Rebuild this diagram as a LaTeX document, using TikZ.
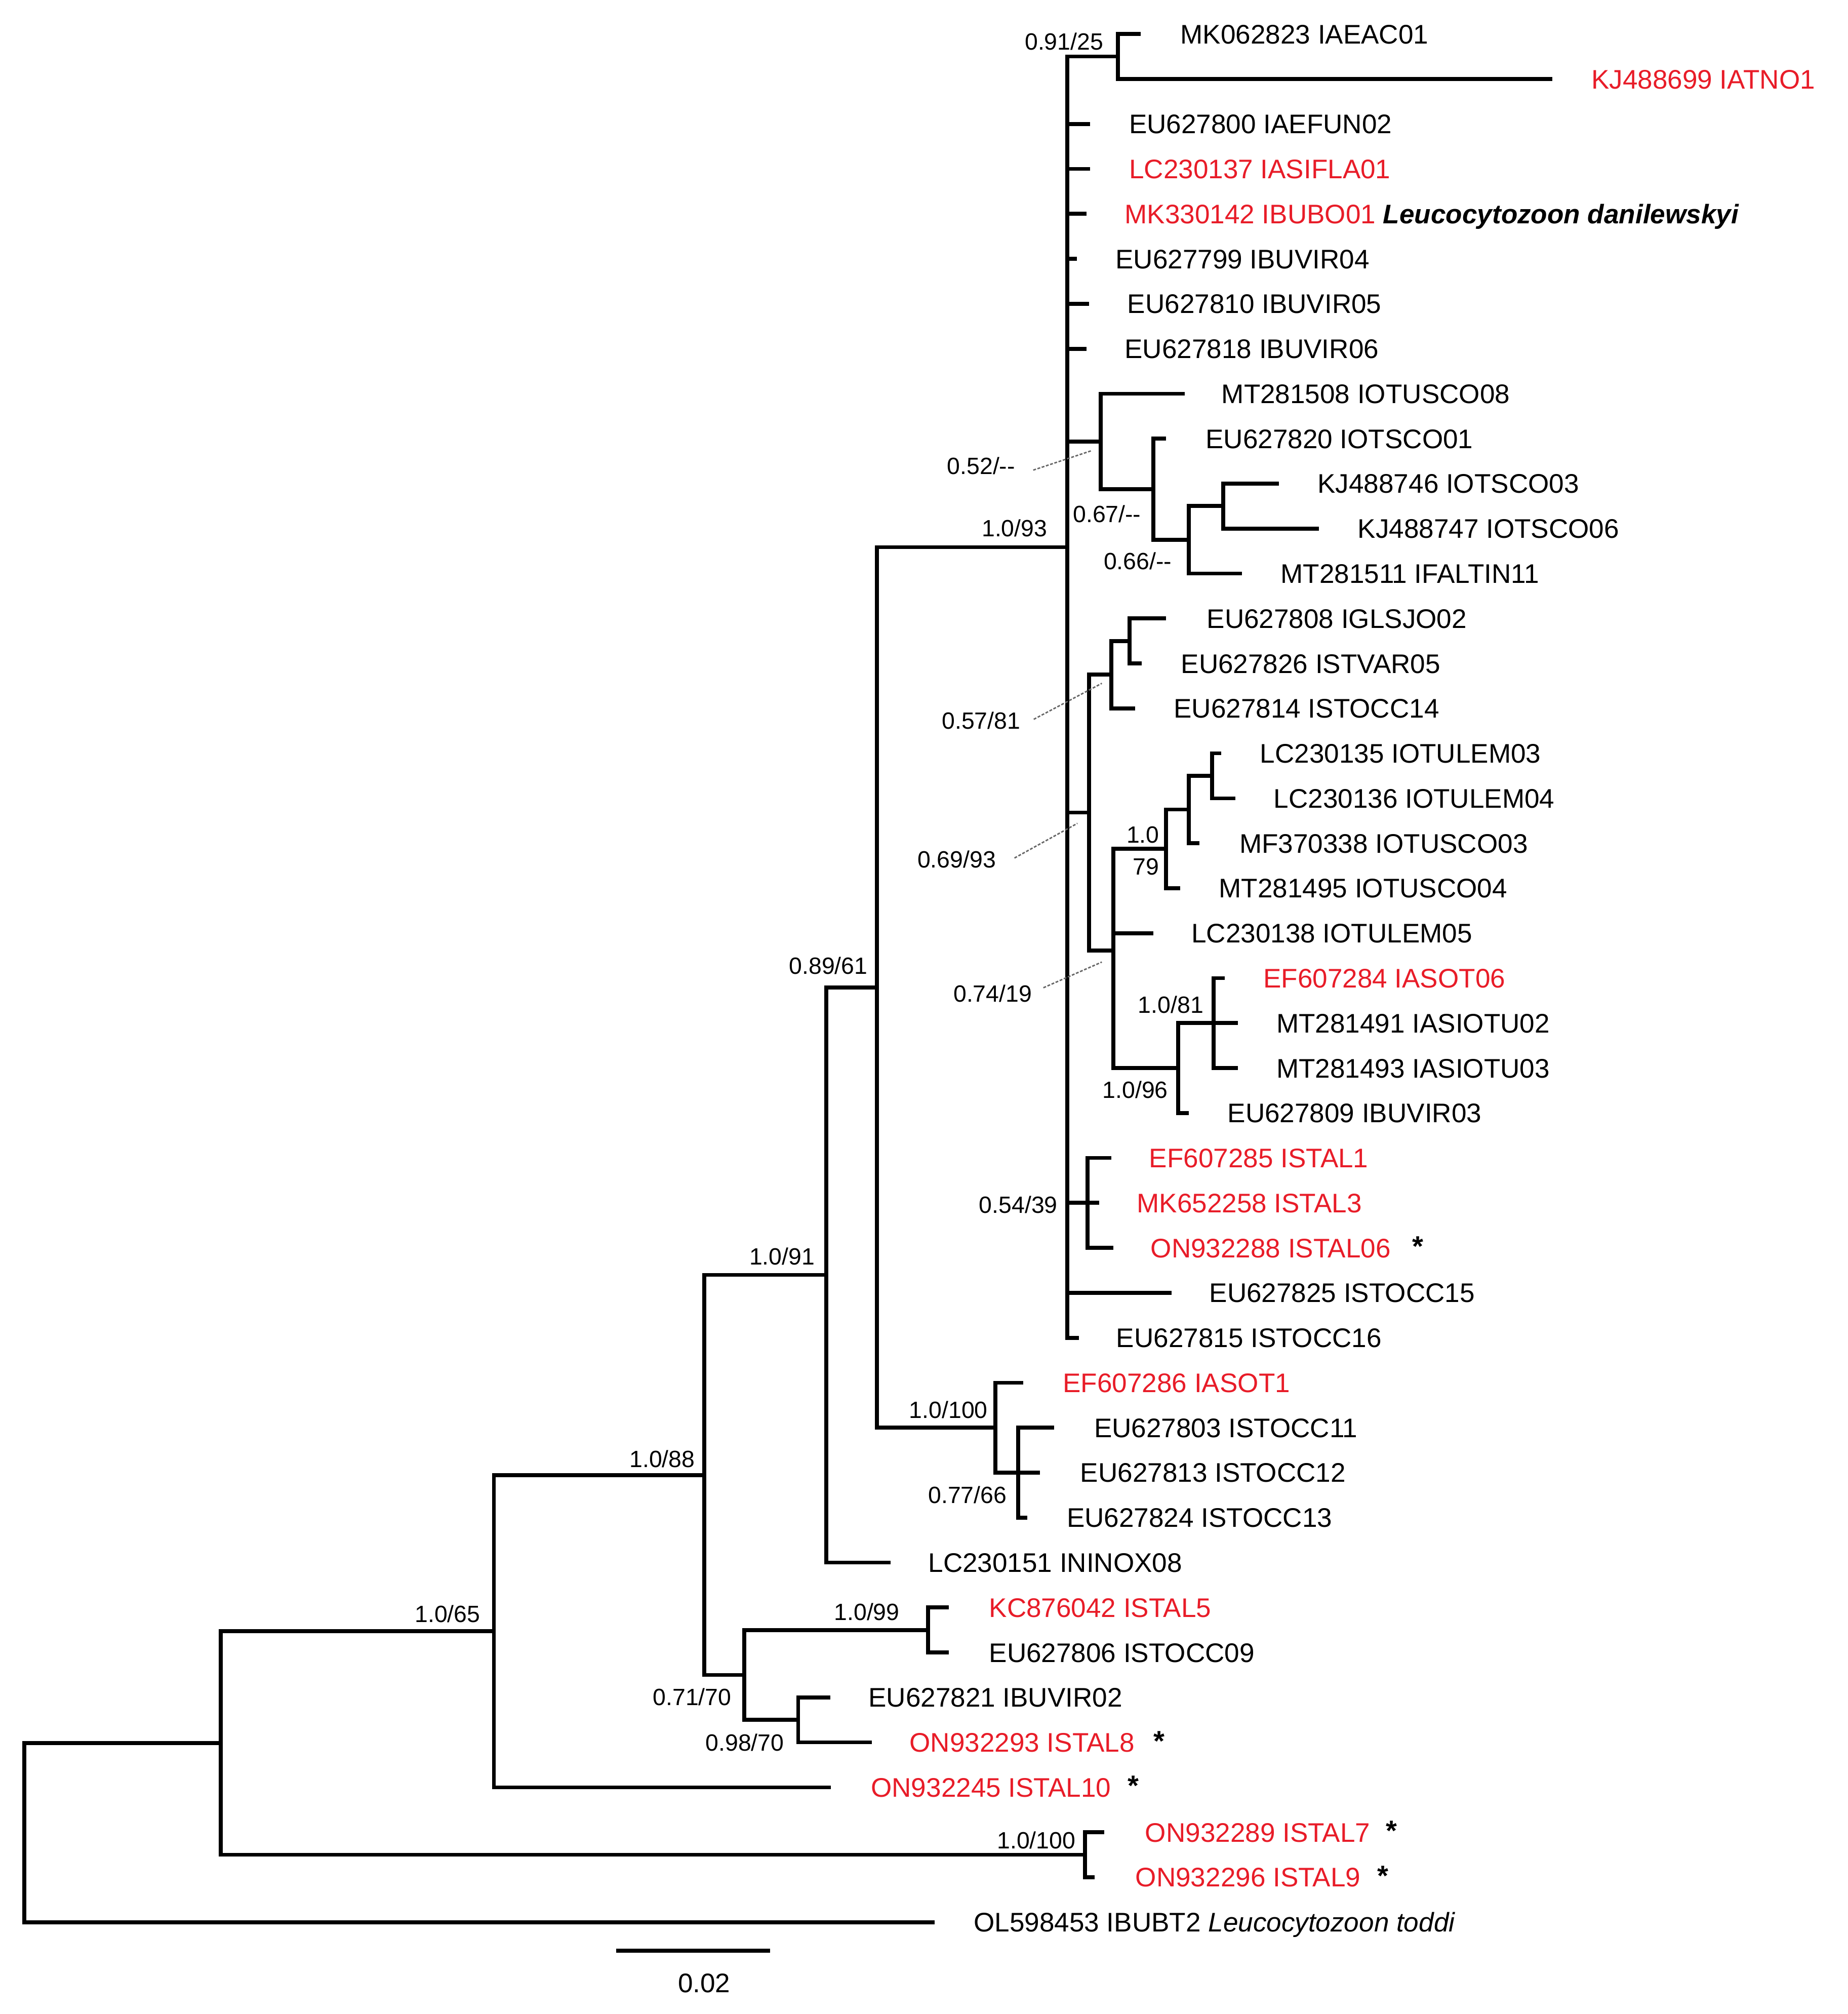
\documentclass[tikz,border=0pt]{standalone}
\usepackage{fontspec}
\setmainfont{Liberation Sans}
\definecolor{tred}{RGB}{232,28,40}
\tikzset{
  br/.style={line width=2.2pt, line join=miter, black},
  tiplab/.style={anchor=base west, inner sep=0pt, font=\fontsize{15.1pt}{18pt}\selectfont},
  redlab/.style={tiplab, text=tred},
  suplab/.style={anchor=center, inner sep=0pt, font=\fontsize{13.2pt}{15pt}\selectfont},
  starlab/.style={anchor=base, inner sep=0pt, font=\fontsize{16pt}{18pt}\selectfont\bfseries},
  lead/.style={line width=0.8pt, black!60, dash pattern=on 1.6pt off 0.9pt}
}
\begin{document}
\begin{tikzpicture}[x=0.025365cm, y=-0.025365cm]
\useasboundingbox (0,0) rectangle (1439,1568);
% internal nodes
\coordinate (root) at (19,1426.75);
\coordinate (nA) at (172,1357);
\coordinate (n65) at (384.6,1270);
\coordinate (n88) at (548.5,1148.5);
\coordinate (n91) at (643.5,992.6);
\coordinate (n8961) at (683,768.75);
\coordinate (n93) at (831,426);
\coordinate (n9125) at (870.5,44);
\coordinate (n52) at (857,343.7);
\coordinate (n67) at (898,380.9);
\coordinate (n66) at (925.7,420.25);
\coordinate (nKJ) at (952.4,394);
\coordinate (n6993) at (848,632.6);
\coordinate (n5781) at (865.5,525.25);
\coordinate (nGL) at (879.6,499);
\coordinate (n7419) at (867,740);
\coordinate (n179) at (908,660.9);
\coordinate (nLCa) at (925.6,630.25);
\coordinate (nLCb) at (943.8,604);
\coordinate (n196) at (917.5,831.5);
\coordinate (n181) at (945,796.5);
\coordinate (n5439) at (847,936.5);
\coordinate (n100a) at (775,1111.5);
\coordinate (n7766) at (793,1146.5);
\coordinate (n7170) at (579.5,1304);
\coordinate (n199) at (722.6,1269);
\coordinate (n9870) at (621.6,1339);
\coordinate (n100b) at (845,1444);
% tips
\coordinate (t01) at (888.4,26.5);
\coordinate (t02) at (1209,61.5);
\coordinate (t03) at (849,96.5);
\coordinate (t04) at (849,131.5);
\coordinate (t05) at (846,166.5);
\coordinate (t06) at (838.5,201.5);
\coordinate (t07) at (848,236.5);
\coordinate (t08) at (846,271.5);
\coordinate (t09) at (922.5,306.5);
\coordinate (t10) at (908,341.5);
\coordinate (t11) at (996,376.5);
\coordinate (t12) at (1027,411.5);
\coordinate (t13) at (967,446.5);
\coordinate (t14) at (908,481.5);
\coordinate (t15) at (889,516.5);
\coordinate (t16) at (884,551.5);
\coordinate (t17) at (951,586.5);
\coordinate (t18) at (962,621.5);
\coordinate (t19) at (934,656.5);
\coordinate (t20) at (919,691.5);
\coordinate (t21) at (898,726.5);
\coordinate (t22) at (953.7,761.5);
\coordinate (t23) at (964,796.5);
\coordinate (t24) at (964,831.5);
\coordinate (t25) at (925.6,866.5);
\coordinate (t26) at (865.5,901.5);
\coordinate (t27) at (856,936.5);
\coordinate (t28) at (867,971.5);
\coordinate (t29) at (912.5,1006.5);
\coordinate (t30) at (840,1041.5);
\coordinate (t31) at (797,1076.5);
\coordinate (t32) at (821,1111.5);
\coordinate (t33) at (810,1146.5);
\coordinate (t34) at (800,1181.5);
\coordinate (t35) at (693.5,1216.5);
\coordinate (t36) at (739,1251.5);
\coordinate (t37) at (739,1286.5);
\coordinate (t38) at (646.5,1321.5);
\coordinate (t39) at (679,1356.5);
\coordinate (t40) at (647,1391.5);
\coordinate (t41) at (860,1426.5);
\coordinate (t42) at (852.5,1461.5);
\coordinate (t43) at (728,1496.5);
% branches
\foreach \p/\c in {root/nA, root/t43, nA/n65, nA/n100b, n65/n88, n65/t40,
  n88/n91, n88/n7170, n91/n8961, n91/t35, n8961/n93, n8961/n100a,
  n93/n9125, n93/t03, n93/t04, n93/t05, n93/t06, n93/t07, n93/t08,
  n93/n52, n93/n6993, n93/n5439, n93/t29, n93/t30,
  n9125/t01, n9125/t02, n52/t09, n52/n67, n67/t10, n67/n66,
  n66/nKJ, n66/t13, nKJ/t11, nKJ/t12,
  n6993/n5781, n6993/n7419, n5781/nGL, n5781/t16, nGL/t14, nGL/t15,
  n7419/n179, n7419/t21, n7419/n196, n179/nLCa, n179/t20,
  nLCa/nLCb, nLCa/t19, nLCb/t17, nLCb/t18,
  n196/n181, n196/t25, n181/t22, n181/t23, n181/t24,
  n5439/t26, n5439/t27, n5439/t28,
  n100a/t31, n100a/n7766, n7766/t32, n7766/t33, n7766/t34,
  n7170/n199, n7170/n9870, n199/t36, n199/t37, n9870/t38, n9870/t39,
  n100b/t41, n100b/t42}
  \draw[br] (\p) |- (\c);
% tip labels
\node[tiplab] (l01) at (919,34) {MK062823 IAEAC01};
\node[redlab] (l02) at (1239,69) {KJ488699 IATNO1};
\node[tiplab] (l03) at (879,104) {EU627800 IAEFUN02};
\node[redlab] (l04) at (879,139) {LC230137 IASIFLA01};
\node[tiplab] (l05) at (875.6,174) {\textcolor{tred}{MK330142 IBUBO01} \textbf{\textit{Leucocytozoon danilewskyi}}};
\node[tiplab] (l06) at (868.4,209) {EU627799 IBUVIR04};
\node[tiplab] (l07) at (877.7,244) {EU627810 IBUVIR05};
\node[tiplab] (l08) at (875.6,279) {EU627818 IBUVIR06};
\node[tiplab] (l09) at (951,314) {MT281508 IOTUSCO08};
\node[tiplab] (l10) at (938.6,349) {EU627820 IOTSCO01};
\node[tiplab] (l11) at (1025.8,384) {KJ488746 IOTSCO03};
\node[tiplab] (l12) at (1057,419) {KJ488747 IOTSCO06};
\node[tiplab] (l13) at (997,454) {MT281511 IFALTIN11};
\node[tiplab] (l14) at (939.5,489) {EU627808 IGLSJO02};
\node[tiplab] (l15) at (919.4,524) {EU627826 ISTVAR05};
\node[tiplab] (l16) at (913.8,559) {EU627814 ISTOCC14};
\node[tiplab] (l17) at (981,594) {LC230135 IOTULEM03};
\node[tiplab] (l18) at (991.6,629) {LC230136 IOTULEM04};
\node[tiplab] (l19) at (965,664) {MF370338 IOTUSCO03};
\node[tiplab] (l20) at (949,699) {MT281495 IOTUSCO04};
\node[tiplab] (l21) at (927.5,734) {LC230138 IOTULEM05};
\node[redlab] (l22) at (983.5,769) {EF607284 IASOT06};
\node[tiplab] (l23) at (993.7,804) {MT281491 IASIOTU02};
\node[tiplab] (l24) at (993.7,839) {MT281493 IASIOTU03};
\node[tiplab] (l25) at (955.7,874) {EU627809 IBUVIR03};
\node[redlab] (l26) at (894.6,909) {EF607285 ISTAL1};
\node[redlab] (l27) at (885,944) {MK652258 ISTAL3};
\node[redlab] (l28) at (895.8,979) {ON932288 ISTAL06};
\node[tiplab] (l29) at (941.5,1014) {EU627825 ISTOCC15};
\node[tiplab] (l30) at (869,1049) {EU627815 ISTOCC16};
\node[redlab] (l31) at (827.5,1084) {EF607286 IASOT1};
\node[tiplab] (l32) at (851.8,1119) {EU627803 ISTOCC11};
\node[tiplab] (l33) at (841,1154) {EU627813 ISTOCC12};
\node[tiplab] (l34) at (830.5,1189) {EU627824 ISTOCC13};
\node[tiplab] (l35) at (722.6,1224) {LC230151 ININOX08};
\node[redlab] (l36) at (770,1259) {KC876042 ISTAL5};
\node[tiplab] (l37) at (770,1294) {EU627806 ISTOCC09};
\node[tiplab] (l38) at (676,1329) {EU627821 IBUVIR02};
\node[redlab] (l39) at (708,1364) {ON932293 ISTAL8};
\node[redlab] (l40) at (678,1399) {ON932245 ISTAL10};
\node[redlab] (l41) at (891.5,1434) {ON932289 ISTAL7};
\node[redlab] (l42) at (884,1469) {ON932296 ISTAL9};
\node[tiplab] (l43) at (758,1504) {OL598453 IBUBT2 \textit{Leucocytozoon toddi}};
% stars
\node[starlab] (s28) at (1104,978) {*};
\node[starlab] (s39) at (902.6,1363) {*};
\node[starlab] (s40) at (882.5,1398) {*};
\node[starlab] (s41) at (1083.8,1433) {*};
\node[starlab] (s42) at (1077,1468) {*};
% support values
\node[suplab] (b9125) at (828.6,32.2) {0.91/25};
\node[suplab] (b93) at (790,411) {1.0/93};
\node[suplab] (b52) at (764,362.8) {0.52/-{}-};
\node[suplab] (b67) at (862,400) {0.67/-{}-};
\node[suplab] (b66) at (886,437) {0.66/-{}-};
\node[suplab] (b5781) at (764,561) {0.57/81};
\node[suplab] (b6993) at (745,669) {0.69/93};
\node[suplab] (b7419) at (773,773.5) {0.74/19};
\node[suplab] (b179a) at (890,650) {1.0};
\node[suplab] (b179b) at (892.5,674.6) {79};
\node[suplab] (b181) at (911.7,782) {1.0/81};
\node[suplab] (b196) at (884,848.4) {1.0/96};
\node[suplab] (b5439) at (793,938) {0.54/39};
\node[suplab] (b100a) at (738.6,1097.6) {1.0/100};
\node[suplab] (b7766) at (753.4,1164) {0.77/66};
\node[suplab] (b8961) at (645,752) {0.89/61};
\node[suplab] (b91) at (609,978) {1.0/91};
\node[suplab] (b88) at (515.7,1135.7) {1.0/88};
\node[suplab] (b199) at (675,1255) {1.0/99};
\node[suplab] (b7170) at (539,1321) {0.71/70};
\node[suplab] (b9870) at (580,1356.6) {0.98/70};
\node[suplab] (b65) at (348.5,1256.5) {1.0/65};
\node[suplab] (b100b) at (807,1432.7) {1.0/100};
% leader lines
\coordinate (k52a) at (804.6,366); \coordinate (k52b) at (849.6,351);
\coordinate (k57a) at (805,560);   \coordinate (k57b) at (858,532);
\coordinate (k69a) at (790,668);   \coordinate (k69b) at (839,641);
\coordinate (k74a) at (812.5,769); \coordinate (k74b) at (858,749);
\draw[lead] (k52a) -- (k52b);
\draw[lead] (k57a) -- (k57b);
\draw[lead] (k69a) -- (k69b);
\draw[lead] (k74a) -- (k74b);
% scale bar
\coordinate (sb1) at (479.7,1518.7);
\coordinate (sb2) at (599.6,1518.7);
\draw[br] (sb1) -- (sb2);
\node[anchor=center, inner sep=0pt, font=\fontsize{15.1pt}{18pt}\selectfont] (sbl) at (548.3,1544) {0.02};
\end{tikzpicture}
\end{document}
